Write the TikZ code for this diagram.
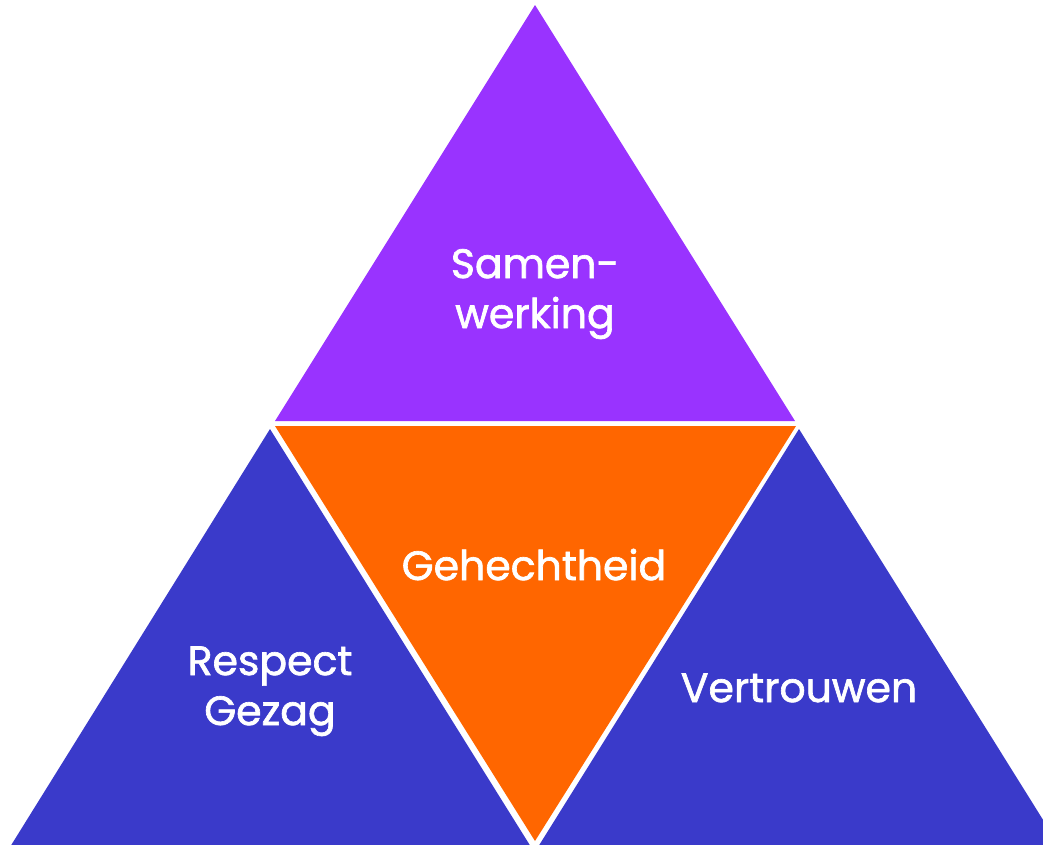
\documentclass[tikz,border=0pt]{standalone}
\usepackage{fontspec}
\setmainfont{Poppins}[FakeBold=1.6,AutoFakeBold=1.6]
\usepackage{xcolor}
\usetikzlibrary{
    positioning,
    calc
}
\definecolor{violetpart}{HTML}{9933FF}
\definecolor{orangepart}{HTML}{FF6600}
\definecolor{bluepart}{HTML}{3A3ACA}
\tikzset{
  piece/.style = {
      draw=none
  },
  word/.style = {
      color=white,
      font=\fontsize{41}{50}\selectfont,
      align=center,
      inner sep=0pt
  }
}

\begin{document}
\begin{tikzpicture}[x=1pt, y=-1pt]
        \useasboundingbox (0,0) rectangle (1043,844);
        \clip (0,0) rectangle (1043,844);
        % Triangles
        \fill[piece, violetpart] (535,5) -- (275,421) -- (795,421) -- cycle;
        \fill[piece, orangepart] (275,426) -- (796,426) -- (535,841) -- cycle;
        \fill[piece, bluepart] (270,429) -- (10,847) -- (531,847) -- cycle;
        \fill[piece, bluepart] (799,429) -- (538,847) -- (1060,847) -- cycle;
        % Labels
        \node[word, anchor=base] (samen) at (535,278) {Samen-};
        \node[word, anchor=base] (werking) at (535,328) {werking};
        \node[word, anchor=base] (gehecht) at (534,580) {Gehechtheid};
        \node[word, anchor=base] (respect) at (270,675) {Respect};
        \node[word, anchor=base] (gezag) at (270,725) {Gezag};
        \node[word, anchor=base] (vertrouwen) at (799,702) {Vertrouwen};
    \end{tikzpicture}
\end{document}
